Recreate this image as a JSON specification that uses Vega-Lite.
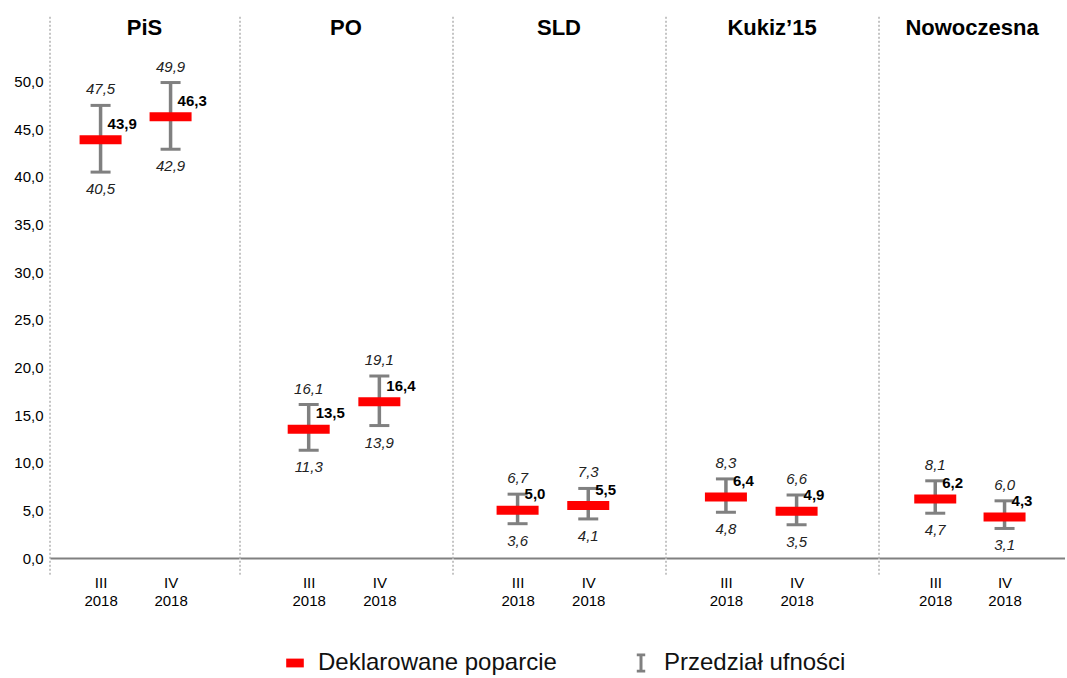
{
  "$schema": "https://vega.github.io/schema/vega-lite/v6.json",
  "padding": {"left": 13, "top": 16, "right": 0, "bottom": 0},
  "background": "white",
  "config": {
    "font": "Liberation Sans",
    "locale": {"number": {"decimal": ",", "thousands": " ", "grouping": [3], "currency": ["", " zł"]}},
    "view": {"stroke": null},
    "title": {"fontSize": 22, "fontWeight": "bold", "color": "#000", "anchor": "middle", "frame": "group", "offset": -24, "font": "Liberation Sans"},
    "axisX": {"title": null, "domainColor": "#808080", "domainWidth": 2, "ticks": false, "labelFontSize": 15, "labelPadding": 17, "labelLineHeight": 18, "labelAngle": 0, "labelColor": "#000", "labelExpr": "split(datum.value, ' ')"},
    "axisY": {"title": null, "domain": false, "ticks": false, "grid": false, "labelFontSize": 15, "labelPadding": 7, "labelColor": "#000", "format": ".1f", "values": [0, 5, 10, 15, 20, 25, 30, 35, 40, 45, 50]}
  },
  "data": {"values": [
    {"party": "PiS", "period": "III 2018", "value": 43.9, "lo": 40.5, "hi": 47.5},
    {"party": "PiS", "period": "IV 2018", "value": 46.3, "lo": 42.9, "hi": 49.9},
    {"party": "PO", "period": "III 2018", "value": 13.5, "lo": 11.3, "hi": 16.1},
    {"party": "PO", "period": "IV 2018", "value": 16.4, "lo": 13.9, "hi": 19.1},
    {"party": "SLD", "period": "III 2018", "value": 5.0, "lo": 3.6, "hi": 6.7},
    {"party": "SLD", "period": "IV 2018", "value": 5.5, "lo": 4.1, "hi": 7.3},
    {"party": "Kukiz’15", "period": "III 2018", "value": 6.4, "lo": 4.8, "hi": 8.3},
    {"party": "Kukiz’15", "period": "IV 2018", "value": 4.9, "lo": 3.5, "hi": 6.6},
    {"party": "Nowoczesna", "period": "III 2018", "value": 6.2, "lo": 4.7, "hi": 8.1},
    {"party": "Nowoczesna", "period": "IV 2018", "value": 4.3, "lo": 3.1, "hi": 6.0}
  ]},
  "spacing": 0,
  "resolve": {"scale": {"x": "independent", "y": "independent", "color": "shared"}},
  "hconcat": [
    {
      "width": 189, "height": 505, "title": "PiS",
      "transform": [{"filter": "datum.party === 'PiS'"}],
      "encoding": {"x": {"field": "period", "type": "ordinal", "title": null, "scale": {"type": "point", "padding": 0.85, "align": 0.425}}},
      "layer": [
        {"transform": [{"aggregate": [{"op": "count", "as": "n"}]}], "mark": {"type": "rule", "strokeDash": [2, 2], "color": "#8a8a8a", "strokeWidth": 1}, "encoding": {"x": {"value": 0}, "y": {"datum": 56.8, "type": "quantitative", "scale": {"domain": [0, 53], "nice": false, "zero": false}, "title": null}, "y2": {"datum": -1.75}}},
        {"mark": {"type": "rule", "strokeWidth": 3.5}, "encoding": {"y": {"field": "lo", "type": "quantitative", "title": null}, "y2": {"field": "hi"}, "color": {"datum": "Przedział ufności", "scale": {"domain": ["Deklarowane poparcie", "Przedział ufności"], "range": ["#ff0000", "#808080"]}, "legend": {"orient": "none", "legendX": 233, "legendY": 598, "direction": "horizontal", "title": null, "labelFontSize": 24, "labelLimit": 500, "labelFont": "Liberation Sans", "labelColor": "#111", "symbolSize": 310, "columnPadding": 72, "labelOffset": 11, "symbolOpacity": 1, "encode": {"symbols": {"update": {"shape": {"signal": "datum.value === 'Deklarowane poparcie' ? 'M-1,-0.5H1V0.5H-1Z' : 'M-0.48,-1.08H0.48V-0.76H0.17V0.76H0.48V1.08H-0.48V0.76H-0.17V-0.76H-0.48Z'"}, "fill": {"signal": "datum.value === 'Deklarowane poparcie' ? '#ff0000' : '#808080'"}, "stroke": {"value": "transparent"}, "strokeWidth": {"value": 0}, "opacity": {"value": 1}}}}}}}},
        {"mark": {"type": "tick", "size": 20, "thickness": 3, "opacity": 1}, "encoding": {"y": {"field": "lo", "type": "quantitative", "title": null}, "color": {"datum": "Przedział ufności"}}},
        {"mark": {"type": "tick", "size": 20, "thickness": 3, "opacity": 1}, "encoding": {"y": {"field": "hi", "type": "quantitative", "title": null}, "color": {"datum": "Przedział ufności"}}},
        {"mark": {"type": "tick", "size": 42, "thickness": 9, "opacity": 1}, "encoding": {"y": {"field": "value", "type": "quantitative", "title": null}, "color": {"datum": "Deklarowane poparcie"}}},
        {"mark": {"type": "text", "align": "left", "baseline": "middle", "dx": 7, "dy": -16, "fontWeight": "bold", "fontSize": 15, "color": "#000"}, "encoding": {"y": {"field": "value", "type": "quantitative", "title": null}, "text": {"field": "value", "type": "quantitative", "format": ".1f"}}},
        {"mark": {"type": "text", "align": "center", "baseline": "middle", "dy": -16, "fontStyle": "italic", "fontSize": 15, "color": "#222"}, "encoding": {"y": {"field": "hi", "type": "quantitative", "title": null}, "text": {"field": "hi", "type": "quantitative", "format": ".1f"}}},
        {"mark": {"type": "text", "align": "center", "baseline": "middle", "dy": 17, "fontStyle": "italic", "fontSize": 15, "color": "#222"}, "encoding": {"y": {"field": "lo", "type": "quantitative", "title": null}, "text": {"field": "lo", "type": "quantitative", "format": ".1f"}}}
      ]
    },
    {
      "width": 212, "height": 505, "title": "PO",
      "transform": [{"filter": "datum.party === 'PO'"}],
      "encoding": {"x": {"field": "period", "type": "ordinal", "title": null, "scale": {"type": "point", "padding": 1.036, "align": 0.486}}},
      "layer": [
        {"transform": [{"aggregate": [{"op": "count", "as": "n"}]}], "mark": {"type": "rule", "strokeDash": [2, 2], "color": "#8a8a8a", "strokeWidth": 1}, "encoding": {"x": {"value": 0}, "y": {"datum": 56.8, "type": "quantitative", "scale": {"domain": [0, 53], "nice": false, "zero": false}, "axis": null}, "y2": {"datum": -1.75}}},
        {"mark": {"type": "rule", "strokeWidth": 3.5}, "encoding": {"y": {"field": "lo", "type": "quantitative", "axis": null}, "y2": {"field": "hi"}, "color": {"datum": "Przedział ufności"}}},
        {"mark": {"type": "tick", "size": 20, "thickness": 3, "opacity": 1}, "encoding": {"y": {"field": "lo", "type": "quantitative", "axis": null}, "color": {"datum": "Przedział ufności"}}},
        {"mark": {"type": "tick", "size": 20, "thickness": 3, "opacity": 1}, "encoding": {"y": {"field": "hi", "type": "quantitative", "axis": null}, "color": {"datum": "Przedział ufności"}}},
        {"mark": {"type": "tick", "size": 42, "thickness": 9, "opacity": 1}, "encoding": {"y": {"field": "value", "type": "quantitative", "axis": null}, "color": {"datum": "Deklarowane poparcie"}}},
        {"mark": {"type": "text", "align": "left", "baseline": "middle", "dx": 7, "dy": -16, "fontWeight": "bold", "fontSize": 15, "color": "#000"}, "encoding": {"y": {"field": "value", "type": "quantitative", "axis": null}, "text": {"field": "value", "type": "quantitative", "format": ".1f"}}},
        {"mark": {"type": "text", "align": "center", "baseline": "middle", "dy": -16, "fontStyle": "italic", "fontSize": 15, "color": "#222"}, "encoding": {"y": {"field": "hi", "type": "quantitative", "axis": null}, "text": {"field": "hi", "type": "quantitative", "format": ".1f"}}},
        {"mark": {"type": "text", "align": "center", "baseline": "middle", "dy": 17, "fontStyle": "italic", "fontSize": 15, "color": "#222"}, "encoding": {"y": {"field": "lo", "type": "quantitative", "axis": null}, "text": {"field": "lo", "type": "quantitative", "format": ".1f"}}}
      ]
    },
    {
      "width": 212, "height": 505, "title": "SLD",
      "transform": [{"filter": "datum.party === 'SLD'"}],
      "encoding": {"x": {"field": "period", "type": "ordinal", "title": null, "scale": {"type": "point", "padding": 1.03, "align": 0.457}}},
      "layer": [
        {"transform": [{"aggregate": [{"op": "count", "as": "n"}]}], "mark": {"type": "rule", "strokeDash": [2, 2], "color": "#8a8a8a", "strokeWidth": 1}, "encoding": {"x": {"value": 0}, "y": {"datum": 56.8, "type": "quantitative", "scale": {"domain": [0, 53], "nice": false, "zero": false}, "axis": null}, "y2": {"datum": -1.75}}},
        {"mark": {"type": "rule", "strokeWidth": 3.5}, "encoding": {"y": {"field": "lo", "type": "quantitative", "axis": null}, "y2": {"field": "hi"}, "color": {"datum": "Przedział ufności"}}},
        {"mark": {"type": "tick", "size": 20, "thickness": 3, "opacity": 1}, "encoding": {"y": {"field": "lo", "type": "quantitative", "axis": null}, "color": {"datum": "Przedział ufności"}}},
        {"mark": {"type": "tick", "size": 20, "thickness": 3, "opacity": 1}, "encoding": {"y": {"field": "hi", "type": "quantitative", "axis": null}, "color": {"datum": "Przedział ufności"}}},
        {"mark": {"type": "tick", "size": 42, "thickness": 9, "opacity": 1}, "encoding": {"y": {"field": "value", "type": "quantitative", "axis": null}, "color": {"datum": "Deklarowane poparcie"}}},
        {"mark": {"type": "text", "align": "left", "baseline": "middle", "dx": 7, "dy": -16, "fontWeight": "bold", "fontSize": 15, "color": "#000"}, "encoding": {"y": {"field": "value", "type": "quantitative", "axis": null}, "text": {"field": "value", "type": "quantitative", "format": ".1f"}}},
        {"mark": {"type": "text", "align": "center", "baseline": "middle", "dy": -16, "fontStyle": "italic", "fontSize": 15, "color": "#222"}, "encoding": {"y": {"field": "hi", "type": "quantitative", "axis": null}, "text": {"field": "hi", "type": "quantitative", "format": ".1f"}}},
        {"mark": {"type": "text", "align": "center", "baseline": "middle", "dy": 17, "fontStyle": "italic", "fontSize": 15, "color": "#222"}, "encoding": {"y": {"field": "lo", "type": "quantitative", "axis": null}, "text": {"field": "lo", "type": "quantitative", "format": ".1f"}}}
      ]
    },
    {
      "width": 212, "height": 505, "title": "Kukiz’15",
      "transform": [{"filter": "datum.party === 'Kukiz’15'"}],
      "encoding": {"x": {"field": "period", "type": "ordinal", "title": null, "scale": {"type": "point", "padding": 1.014, "align": 0.424}}},
      "layer": [
        {"transform": [{"aggregate": [{"op": "count", "as": "n"}]}], "mark": {"type": "rule", "strokeDash": [2, 2], "color": "#8a8a8a", "strokeWidth": 1}, "encoding": {"x": {"value": 0}, "y": {"datum": 56.8, "type": "quantitative", "scale": {"domain": [0, 53], "nice": false, "zero": false}, "axis": null}, "y2": {"datum": -1.75}}},
        {"mark": {"type": "rule", "strokeWidth": 3.5}, "encoding": {"y": {"field": "lo", "type": "quantitative", "axis": null}, "y2": {"field": "hi"}, "color": {"datum": "Przedział ufności"}}},
        {"mark": {"type": "tick", "size": 20, "thickness": 3, "opacity": 1}, "encoding": {"y": {"field": "lo", "type": "quantitative", "axis": null}, "color": {"datum": "Przedział ufności"}}},
        {"mark": {"type": "tick", "size": 20, "thickness": 3, "opacity": 1}, "encoding": {"y": {"field": "hi", "type": "quantitative", "axis": null}, "color": {"datum": "Przedział ufności"}}},
        {"mark": {"type": "tick", "size": 42, "thickness": 9, "opacity": 1}, "encoding": {"y": {"field": "value", "type": "quantitative", "axis": null}, "color": {"datum": "Deklarowane poparcie"}}},
        {"mark": {"type": "text", "align": "left", "baseline": "middle", "dx": 7, "dy": -16, "fontWeight": "bold", "fontSize": 15, "color": "#000"}, "encoding": {"y": {"field": "value", "type": "quantitative", "axis": null}, "text": {"field": "value", "type": "quantitative", "format": ".1f"}}},
        {"mark": {"type": "text", "align": "center", "baseline": "middle", "dy": -16, "fontStyle": "italic", "fontSize": 15, "color": "#222"}, "encoding": {"y": {"field": "hi", "type": "quantitative", "axis": null}, "text": {"field": "hi", "type": "quantitative", "format": ".1f"}}},
        {"mark": {"type": "text", "align": "center", "baseline": "middle", "dy": 17, "fontStyle": "italic", "fontSize": 15, "color": "#222"}, "encoding": {"y": {"field": "lo", "type": "quantitative", "axis": null}, "text": {"field": "lo", "type": "quantitative", "format": ".1f"}}}
      ]
    },
    {
      "width": 186, "height": 505, "title": "Nowoczesna",
      "transform": [{"filter": "datum.party === 'Nowoczesna'"}],
      "encoding": {"x": {"field": "period", "type": "ordinal", "title": null, "scale": {"type": "point", "padding": 0.842, "align": 0.482}}},
      "layer": [
        {"transform": [{"aggregate": [{"op": "count", "as": "n"}]}], "mark": {"type": "rule", "strokeDash": [2, 2], "color": "#8a8a8a", "strokeWidth": 1}, "encoding": {"x": {"value": 0}, "y": {"datum": 56.8, "type": "quantitative", "scale": {"domain": [0, 53], "nice": false, "zero": false}, "axis": null}, "y2": {"datum": -1.75}}},
        {"mark": {"type": "rule", "strokeWidth": 3.5}, "encoding": {"y": {"field": "lo", "type": "quantitative", "axis": null}, "y2": {"field": "hi"}, "color": {"datum": "Przedział ufności"}}},
        {"mark": {"type": "tick", "size": 20, "thickness": 3, "opacity": 1}, "encoding": {"y": {"field": "lo", "type": "quantitative", "axis": null}, "color": {"datum": "Przedział ufności"}}},
        {"mark": {"type": "tick", "size": 20, "thickness": 3, "opacity": 1}, "encoding": {"y": {"field": "hi", "type": "quantitative", "axis": null}, "color": {"datum": "Przedział ufności"}}},
        {"mark": {"type": "tick", "size": 42, "thickness": 9, "opacity": 1}, "encoding": {"y": {"field": "value", "type": "quantitative", "axis": null}, "color": {"datum": "Deklarowane poparcie"}}},
        {"mark": {"type": "text", "align": "left", "baseline": "middle", "dx": 7, "dy": -16, "fontWeight": "bold", "fontSize": 15, "color": "#000"}, "encoding": {"y": {"field": "value", "type": "quantitative", "axis": null}, "text": {"field": "value", "type": "quantitative", "format": ".1f"}}},
        {"mark": {"type": "text", "align": "center", "baseline": "middle", "dy": -16, "fontStyle": "italic", "fontSize": 15, "color": "#222"}, "encoding": {"y": {"field": "hi", "type": "quantitative", "axis": null}, "text": {"field": "hi", "type": "quantitative", "format": ".1f"}}},
        {"mark": {"type": "text", "align": "center", "baseline": "middle", "dy": 17, "fontStyle": "italic", "fontSize": 15, "color": "#222"}, "encoding": {"y": {"field": "lo", "type": "quantitative", "axis": null}, "text": {"field": "lo", "type": "quantitative", "format": ".1f"}}}
      ]
    }
  ]
}
